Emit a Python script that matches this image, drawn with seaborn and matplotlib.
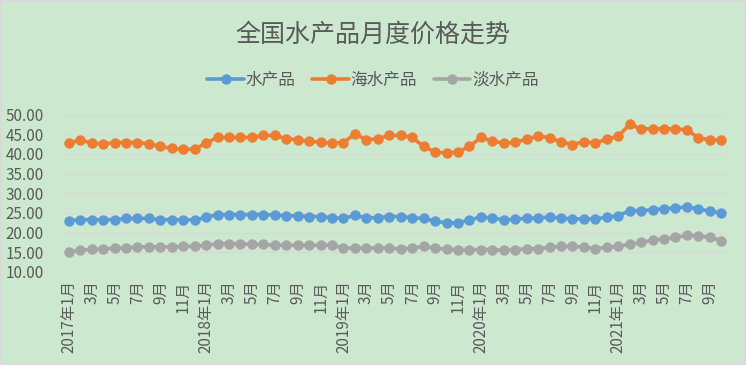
import pandas as pd
import numpy as np
import seaborn as sns
import matplotlib.pyplot as plt

# monthly labels 2017-01 .. 2021-10
years = [2017, 2018, 2019, 2020, 2021]
months = []
for y in years:
    for m in range(1, 13):
        if y == 2021 and m > 10:
            break
        months.append((y, m))

tick_labels = [f"{y}年{m}月" if m == 1 else f"{m}月" for (y, m) in months]

aquatic = [23.0, 23.3, 23.3, 23.3, 23.3, 23.6, 23.6, 23.6, 23.3, 23.3, 23.3, 23.2,
           23.9, 24.6, 24.6, 24.6, 24.6, 24.6, 24.5, 24.3, 24.3, 24.1, 24.1, 23.8,
           23.6, 24.4, 23.8, 23.8, 24.1, 24.1, 23.8, 23.6, 22.9, 22.5, 22.5, 23.2,
           24.0, 23.7, 23.3, 23.4, 23.7, 23.7, 24.0, 23.7, 23.5, 23.5, 23.5, 23.9,
           24.3, 25.6, 25.6, 25.8, 26.1, 26.3, 26.5, 26.1, 25.4, 25.1]

marine = [42.8, 43.5, 42.8, 42.5, 42.9, 42.9, 42.9, 42.6, 41.9, 41.4, 41.2, 41.2,
          42.8, 44.2, 44.2, 44.2, 44.2, 44.7, 44.7, 43.9, 43.6, 43.2, 43.0, 42.7,
          42.9, 45.1, 43.6, 43.9, 44.7, 44.7, 44.2, 41.9, 40.5, 40.2, 40.5, 41.9,
          44.2, 43.3, 42.7, 43.0, 43.7, 44.6, 44.1, 43.1, 42.4, 43.1, 42.8, 43.7,
          44.5, 47.5, 46.4, 46.4, 46.4, 46.4, 46.1, 44.1, 43.6, 43.5]

freshwater = [15.1, 15.5, 15.8, 15.8, 16.1, 16.1, 16.4, 16.4, 16.4, 16.4, 16.5, 16.5,
              16.8, 17.2, 17.2, 17.2, 17.0, 17.0, 16.8, 16.8, 16.8, 16.8, 16.8, 16.8,
              16.1, 16.1, 16.1, 16.1, 16.1, 15.8, 16.1, 16.5, 16.1, 15.8, 15.7, 15.7,
              15.7, 15.7, 15.5, 15.7, 15.9, 15.9, 16.3, 16.5, 16.5, 16.3, 15.9, 16.3,
              16.5, 17.1, 17.5, 18.1, 18.4, 18.8, 19.3, 19.2, 18.8, 18.0]

series_names = ["水产品", "海水产品", "淡水产品"]
colors = ["#5B9BD5", "#ED7D31", "#A5A5A5"]

n = len(months)
df = pd.DataFrame({
    "idx": list(range(n)) * 3,
    "price": aquatic + marine + freshwater,
    "series": [s for s in series_names for _ in range(n)],
})

sns.set_theme(style="white")
plt.rcParams["font.family"] = ["Noto Sans CJK SC", "DejaVu Sans"]
bg = "#CCE8CF"
text_c = "#595959"

fig = plt.figure(figsize=(7.46, 3.65), dpi=100, facecolor=bg)
fig.patch.set_edgecolor("#D9D9D9")
fig.patch.set_linewidth(1.5)
ax = fig.add_axes([0.0845, 0.2548, 0.89, 0.4312])
ax.set_facecolor(bg)

sns.lineplot(data=df, x="idx", y="price", hue="series", hue_order=series_names,
             palette=colors, marker="o", markersize=7.5, markeredgewidth=0,
             linewidth=2.6, ax=ax, sort=False, legend=False)

ax.set_xlim(-0.5, n - 0.5)
ax.set_ylim(10, 50)
ax.set_yticks(np.arange(10, 51, 5))
ax.set_yticklabels([f"{v:.2f}" for v in np.arange(10, 51, 5)], color=text_c, fontsize=11)
ax.yaxis.grid(True, color="#D9D9D9", linewidth=1)
ax.set_axisbelow(True)
ax.set_xticks(range(0, n, 2))
ax.set_xticklabels(tick_labels[::2], rotation=90, color=text_c, fontsize=11, va="top", ha="center")
ax.tick_params(axis="both", length=0, pad=6)
ax.tick_params(axis="y", pad=14)
ax.set_xlabel("")
ax.set_ylabel("")
for s in ax.spines.values():
    s.set_visible(False)

handles = [plt.Line2D([], [], color=c, linewidth=2.6, marker="o", markersize=7.5,
                      markeredgewidth=0) for c in colors]
fig.legend(handles, series_names, loc="center", bbox_to_anchor=(0.5, 0.78), ncol=3,
           frameon=False, fontsize=12, labelcolor=text_c, handlelength=2.2,
           handletextpad=0.1, columnspacing=1.0)

fig.text(0.5, 0.905, "全国水产品月度价格走势", ha="center", va="center",
         fontsize=18, color=text_c)

fig.savefig("out.png", dpi=100, facecolor=bg, edgecolor=fig.get_edgecolor())
